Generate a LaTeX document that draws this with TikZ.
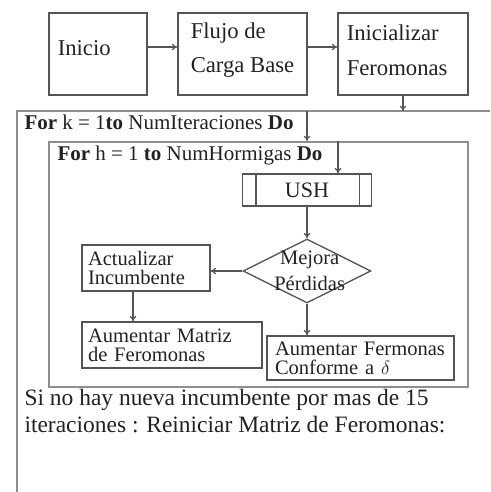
\documentclass[tikz,border=0pt]{standalone}
\usepackage{fontspec}
\setmainfont{Liberation Serif}
\usetikzlibrary{shapes.geometric,arrows.meta,positioning}
\definecolor{boxline}{HTML}{555555}
\definecolor{frameline}{HTML}{8E8E8E}
\definecolor{ink}{HTML}{222222}
\tikzset{every picture/.style={line width=0.75pt}}

\begin{document}
\begin{tikzpicture}[x=0.75pt,y=0.75pt,yscale=-1,xscale=1,
  topbox/.style={draw=boxline,line width=1.1pt,minimum width=#1,minimum height=61.5pt,inner sep=0pt},
  toptext/.style={anchor=west,inner sep=0pt,align=left,text=ink,font=\fontsize{17}{26}\selectfont},
  flowbox/.style={draw=boxline,line width=1pt,text=ink,align=left,inner xsep=4.5pt,inner ysep=0pt,font=\fontsize{15.4}{14.25}\selectfont},
  ushbox/.style={draw=boxline,line width=1pt,text=ink,minimum width=96.75pt,minimum height=24pt,inner sep=0pt,font=\fontsize{16.5}{20}\selectfont},
  decision/.style={diamond,draw=boxline,line width=1pt,minimum width=96pt,minimum height=48pt,inner sep=0pt},
  looptext/.style={anchor=west,inner sep=0.75pt,text=ink,font=\fontsize{15.75}{19}\selectfont},
  notetext/.style={anchor=west,inner sep=0.75pt,align=left,text=ink,font=\fontsize{17.6}{20.25}\selectfont},
  frame/.style={draw=frameline,line width=1.5pt},
  arr/.style={-{To[length=4pt,width=5pt]},draw=boxline,line width=0.9pt}
]
\useasboundingbox (0,0) rectangle (490,492);
%Shape: Rectangle [inicio]
\node[topbox=73.5pt] (inicio) at (98,54) {};
\node[toptext] (inicio-txt) at ([xshift=6.75pt,yshift=-4.5pt]inicio.west) {Inicio};
%Shape: Rectangle [flujo]
\node[topbox=96.75pt] (flujo) at (242.5,54) {};
\node[toptext] (flujo-txt) at ([xshift=9.75pt,yshift=-3pt]flujo.west) {Flujo de\\Carga Base};
%Shape: Rectangle [inicializar]
\node[topbox=97.5pt] (inicial) at (403,54) {};
\node[toptext] (inicial-txt) at ([xshift=6.75pt,yshift=-3pt]inicial.west) {Inicializar\\Feromonas};
\draw[arr] ([yshift=-5.25pt]inicio.east) -- ([yshift=-5.25pt]flujo.west);
\draw[arr] ([yshift=-5.25pt]flujo.east) -- ([yshift=-5.25pt]inicial.west);

%Shape: outer loop (k)
\coordinate (kloop) at (17,111);
\draw[frame] (490,111) -- (kloop) -- (17,492);
\draw[arr] (inicial.south) -- (inicial.south |- kloop);
% Text Node
\node[looptext] (fork) at (23,122) {\textbf{For} k = 1\textbf{to} NumIteraciones \textbf{Do}};

%Shape: inner loop (h)
\node[frame,minimum width=314.25pt,minimum height=183.75pt,inner sep=0pt] (hloop) at (258.5,264.5) {};
% Text Node
\node[looptext] (forh) at (56,155) {\textbf{For} h = 1 \textbf{to} NumHormigas \textbf{Do}};

%Shape: Process [ush]
\node[ushbox] (ush) at (307,190) {USH};
\draw[boxline,line width=1pt] ([xshift=10.5pt]ush.north west) -- ([xshift=10.5pt]ush.south west);
\draw[boxline,line width=1pt] ([xshift=-9.75pt]ush.north east) -- ([xshift=-9.75pt]ush.south east);
\draw[arr] (ush.north |- kloop) -- (ush.north |- hloop.north);
\draw[arr] ([xshift=23.25pt]ush.north |- hloop.north) -- ([xshift=23.25pt]ush.north);

%Shape: Diamond [mejora]
\node[decision] (mejora) at (307,271) {};
\node[text=ink,align=center,inner sep=0pt,font=\fontsize{15.4}{19.5}\selectfont] (mejora-txt) at ([xshift=2pt]mejora) {Mejora\\Pérdidas};
\draw[arr] (ush.south) -- (mejora.north);

%Shape: Rectangle [actualizar]
\node[flowbox,text width=87pt,minimum height=34.5pt] (actual) at (146,268) {Actualizar\\Incumbente};
\draw[arr] (mejora.west) -- (mejora.west -| actual.east);
%Shape: Rectangle [matriz]
\node[flowbox,text width=126pt,minimum height=34.5pt] (matriz) at (172,345) {Aumentar Matriz\\de Feromonas};
\draw[arr] ([xshift=-9.75pt]actual.south) -- ([xshift=-9.75pt]actual.south |- matriz.north);
%Shape: Rectangle [fermonas]
\node[flowbox,inner xsep=6pt,text width=128.25pt,minimum height=33pt] (ferm) at (360.5,358) {Aumentar Fermonas\\Conforme a $\delta$};
\draw[arr] (mejora.south) -- (mejora.south |- ferm.north);

% Text Node
\node[notetext] (reinicio) at (23,411) {Si no hay nueva incumbente por mas de 15\\iteraciones : Reiniciar Matriz de Feromonas:};
\end{tikzpicture}
\end{document}
